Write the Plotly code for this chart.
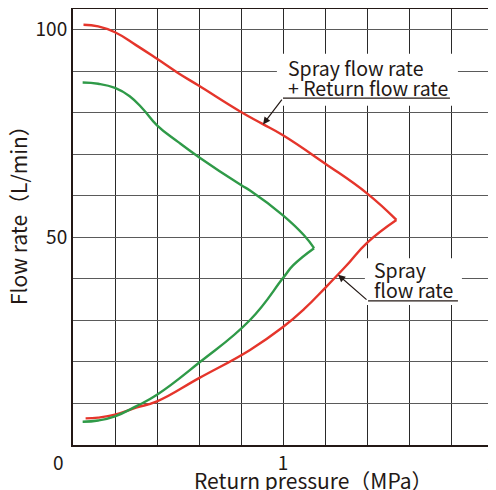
import plotly.graph_objects as go

# --- data ---
red_upper_x = [0.05, 0.12, 0.2, 0.3, 0.4, 0.5, 0.6, 0.8, 0.9, 1.0, 1.2, 1.4, 1.54]
red_upper_y = [101.2, 100.8, 99.4, 96.3, 93.0, 89.6, 86.5, 80.2, 77.4, 74.6, 67.8, 60.6, 54.2]
red_lower_x = [1.54, 1.4, 1.3, 1.2, 1.1, 1.0, 0.843, 0.6, 0.4, 0.3, 0.2, 0.12, 0.06]
red_lower_y = [54.2, 48.7, 43.1, 37.8, 32.7, 28.4, 22.9, 16.1, 10.5, 9.0, 7.3, 6.6, 6.4]

green_upper_x = [0.046, 0.12, 0.2, 0.27, 0.335, 0.4, 0.5, 0.6, 0.8, 0.843, 1.0, 1.1, 1.148]
green_upper_y = [87.3, 87.0, 86.0, 84.0, 80.8, 77.0, 73.0, 69.3, 62.6, 61.3, 55.3, 50.5, 47.4]
green_lower_x = [1.148, 1.049, 1.0, 0.843, 0.6, 0.4, 0.3, 0.2, 0.12, 0.046]
green_lower_y = [47.4, 43.3, 40.2, 30.1, 19.8, 12.1, 9.3, 6.9, 5.9, 5.6]

x_tickvals = [0, 0.2, 0.4, 0.6, 0.8, 1.0, 1.2, 1.4, 1.6, 1.8, 2.0]
x_ticktext = ["", "", "", "", "", "1", "", "", "", "", "2"]
y_tickvals = [0, 10, 20, 30, 40, 50, 60, 70, 80, 90, 100]
y_ticktext = ["", "", "", "", "", "50", "", "", "", "", "100"]

label_total_lines = ["Spray flow rate", "+ Return flow rate"]
label_spray_lines = ["Spray", "flow rate"]
x_title = "Return pressure（MPa）"
y_title = "Flow rate（L/min）"

RED = "#e5352b"
GREEN = "#2f9a48"
INK = "#231815"
FONT = "Noto Sans CJK JP"

fig = go.Figure()
for xs, ys, col in [(red_upper_x, red_upper_y, RED), (red_lower_x, red_lower_y, RED),
                    (green_upper_x, green_upper_y, GREEN), (green_lower_x, green_lower_y, GREEN)]:
    fig.add_trace(go.Scatter(x=xs, y=ys, mode="lines",
                             line=dict(color=col, width=2.4, shape="spline", smoothing=1.3),
                             showlegend=False, hoverinfo="skip"))

# label boxes (white, hiding grid)
fig.add_shape(type="rect", x0=0.971, x1=1.833, y0=81.7, y1=94.2, xref="x", yref="y",
              fillcolor="white", line=dict(width=0), layer="between")
fig.add_shape(type="rect", x0=1.39, x1=1.852, y0=33.7, y1=45.0, xref="x", yref="y",
              fillcolor="white", line=dict(width=0), layer="between")
# underlines
fig.add_shape(type="line", x0=1.0, x1=1.795, y0=83.55, y1=83.55, line=dict(color=INK, width=1.3))
fig.add_shape(type="line", x0=1.405, x1=1.833, y0=34.7, y1=34.7, line=dict(color=INK, width=1.3))

for txt, yy in zip(label_total_lines, [91.0, 86.0]):
    fig.add_annotation(x=1.012, y=yy, xref="x", yref="y", text=txt, showarrow=False,
                       xanchor="left", yanchor="middle", align="left",
                       font=dict(family=FONT, size=19.5, color=INK))
for txt, yy in zip(label_spray_lines, [42.2, 37.4]):
    fig.add_annotation(x=1.422, y=yy, xref="x", yref="y", text=txt, showarrow=False,
                       xanchor="left", yanchor="middle", align="left",
                       font=dict(family=FONT, size=19.5, color=INK))
# arrows
fig.add_annotation(x=0.905, y=77.2, ax=1.0, ay=83.55, xref="x", yref="y", axref="x", ayref="y",
                   text="", showarrow=True, arrowhead=2, arrowsize=1.2, arrowwidth=1.2, arrowcolor=INK)
fig.add_annotation(x=1.262, y=41.0, ax=1.405, ay=34.7, xref="x", yref="y", axref="x", ayref="y",
                   text="", showarrow=True, arrowhead=2, arrowsize=1.2, arrowwidth=1.2, arrowcolor=INK)

# axis titles and origin label
fig.add_annotation(x=0.573, y=-0.080, xref="paper", yref="paper", text=x_title, showarrow=False,
                   xanchor="center", yanchor="middle", font=dict(family=FONT, size=21, color=INK))
fig.add_annotation(x=-0.131, y=0.539, xref="paper", yref="paper", text=y_title, showarrow=False,
                   textangle=-90, xanchor="center", yanchor="middle", font=dict(family=FONT, size=21, color=INK))
fig.add_annotation(x=-0.0357, y=-0.0367, xref="paper", yref="paper", text="0", showarrow=False,
                   xanchor="center", yanchor="middle", font=dict(family=FONT, size=19, color=INK))

fig.update_xaxes(range=[0, 2], tickvals=x_tickvals, ticktext=x_ticktext, showgrid=True, automargin=False,
                 gridcolor="#2a2a2a", gridwidth=1, showline=True, linecolor=INK, linewidth=2, mirror=True,
                 ticks="", zeroline=False, ticklabelstandoff=0, ticklabeloverflow="allow",
                 tickfont=dict(family=FONT, size=19, color=INK))
fig.update_yaxes(range=[0, 105], tickvals=y_tickvals, ticktext=y_ticktext, showgrid=True, automargin=False,
                 gridcolor="#5a5a5a", gridwidth=1, showline=True, linecolor=INK, linewidth=2, mirror=True,
                 ticks="", zeroline=False, ticklabelstandoff=0, ticklabeloverflow="allow",
                 tickfont=dict(family=FONT, size=19, color=INK))

# the page body adds an 8px margin, so the figure is sized to the visible area
fig.update_layout(width=488, height=482, margin=dict(l=65, r=3, t=1, b=45),
                  plot_bgcolor="white", paper_bgcolor="white", showlegend=False)

fig.write_html("out.html")
